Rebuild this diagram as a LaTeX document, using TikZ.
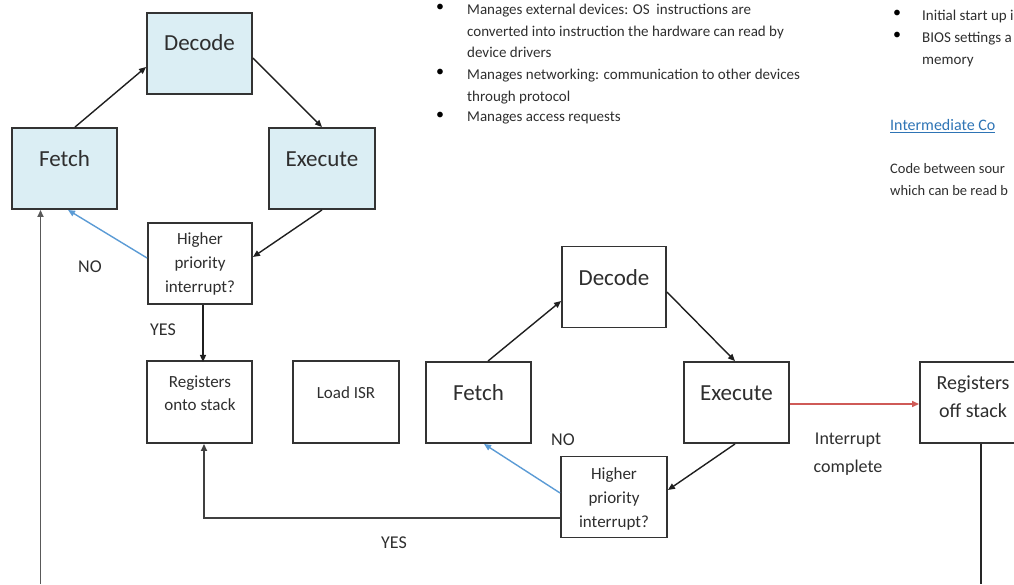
\documentclass[tikz,border=0pt]{standalone}
\usepackage{fontspec}
\setmainfont{Carlito}
\usetikzlibrary{arrows.meta,calc}

\definecolor{boxfill}{HTML}{DBEEF4}
\definecolor{nolink}{HTML}{5B9BD5}
\definecolor{donelink}{HTML}{CF5A57}
\definecolor{headblue}{HTML}{2E74B5}
\definecolor{ink}{HTML}{2E2E2E}

\tikzset{
  stagebox/.style={draw=black!80, line width=1.9pt, minimum width=105pt,
    minimum height=81pt, inner sep=0pt},
  cyclebox/.style={stagebox, fill=boxfill},
  bigtxt/.style={font=\fontsize{23}{27}\selectfont, text=ink, inner sep=0pt},
  smalltxt/.style={font=\fontsize{17}{24}\selectfont, text=ink, inner sep=0pt, align=center},
  tag/.style={font=\fontsize{18}{28}\selectfont, text=ink, inner sep=0pt, align=center},
  link/.style={line width=1.4pt, draw=black!88, -{Triangle[length=7pt,width=6pt]}},
  nolinkstyle/.style={line width=1.4pt, draw=nolink, -{Triangle[length=7pt,width=6pt]}},
  notes/.style={font=\fontsize{15}{21.5}\selectfont, text=ink, inner sep=0pt,
    anchor=north west, align=left},
  dot/.style={font=\fontsize{16}{21.5}\selectfont, text=black, inner sep=0pt, anchor=north west}
}

\begin{document}
\begin{tikzpicture}[x=1pt, y=-1pt]
\useasboundingbox (0,0) rectangle (1014,584);
\clip (0,0) rectangle (1014,584);

% ---- main fetch-decode-execute cycle ----
\node[cyclebox] (dec1) at (199.5,53.5) {};
\node[cyclebox] (fet1) at (64.5,168.5) {};
\node[cyclebox, minimum width=106pt] (exe1) at (322,168.5) {};
\node[stagebox, minimum width=104pt] (hp1) at (200,263.5) {};

\node[bigtxt] (dec1t) at (199.5,43) {Decode};
\node[bigtxt] (fet1t) at (64.5,159) {Fetch};
\node[bigtxt] (exe1t) at (322,159) {Execute};
\node[smalltxt] (hp1t) at (200,264) {Higher\\priority\\interrupt?};

% ---- interrupt handling ----
\node[stagebox, minimum height=82pt] (reg1) at (199.5,402) {};
\node[stagebox, minimum width=106pt, minimum height=82pt] (isr) at (346,402) {};
\node[smalltxt, font=\fontsize{17}{23}\selectfont] (reg1t) at (200,393.5) {Registers\\onto stack};
\node[smalltxt] (isrt) at (346,393) {Load ISR};

% ---- interrupt service routine cycle ----
\node[stagebox] (fet2) at (478.5,402.5) {};
\node[stagebox, minimum width=104pt] (dec2) at (614,287) {};
\node[stagebox] (exe2) at (736.5,402.5) {};
\node[stagebox, minimum width=106pt] (hp2) at (614,497) {};
\node[stagebox] (regoff) at (972.5,402.5) {};

\node[bigtxt] (fet2t) at (478.5,393) {Fetch};
\node[bigtxt] (dec2t) at (614,278) {Decode};
\node[bigtxt] (exe2t) at (736.5,393) {Execute};
\node[smalltxt] (hp2t) at (614,498.5) {Higher\\priority\\interrupt?};
\node[smalltxt, font=\fontsize{20}{28}\selectfont] (regofft) at (973,397) {Registers\\off stack};

% ---- labels ----
\node[tag] (no1) at (90,267) {NO};
\node[tag] (yes1) at (163,330) {YES};
\node[tag] (no2) at (563,440) {NO};
\node[tag] (yes2) at (394,543) {YES};
\node[tag] (donet) at (848,454) {Interrupt\\complete};

% ---- loose ends of the long return lines ----
\coordinate (backin) at (40.5,584);
\coordinate (backout) at (981,584);

% ---- connectors: main cycle ----
\draw[link] ($(fet1.north)+(10.5,0)$) -- ($(dec1.west)+(0,13.5)$);
\draw[link] ($(dec1.east)+(0,4.5)$) -- (exe1.north);
\draw[link] (exe1.south) -- ($(hp1.east)+(0,-6.5)$);
\draw[nolinkstyle] ($(hp1.west)+(0,-5.5)$) -- ($(fet1.south)+(3.5,0)$);
\draw[link] ($(hp1.south)+(3,0)$) -- ($(reg1.south)+(3.5,-82)$);
\draw[link, line width=1.8pt, draw=black!65] (backin) -- ($(fet1.south)+(-24,0)$);

% ---- connectors: ISR cycle ----
\draw[link] ($(fet2.north)+(9.5,0)$) -- ($(dec2.west)+(0,14)$);
\draw[link] ($(dec2.east)+(0,5)$) -- ($(exe2.north)+(-1.5,0)$);
\draw[link] ($(exe2.south)+(-1.5,0)$) -- ($(hp2.east)+(0,-7)$);
\draw[nolinkstyle] ($(hp2.west)+(0,-4)$) -- ($(fet2.south)+(5.5,0)$);
\draw[link, line width=1.6pt, draw=black!75] ($(hp2.west)+(0,21)$) -| ($(reg1.south)+(4.5,0)$);
\draw[line width=1.4pt, draw=donelink, -{Triangle[length=7pt,width=6pt]}]
  ($(exe2.east)+(0,1.5)$) -- ($(regoff.west)+(0,1.5)$);
\draw[line width=1.6pt, draw=black!85] ($(regoff.south)+(8.5,0)$) -- (backout);

% ---- surrounding notes ----
\node[dot] (b1) at (436,4) {•};
\node[dot] (b2) at (436,69) {•};
\node[dot] (b3) at (436,112) {•};
\node[notes] (n1) at (467,4) {Manages external devices: OS\ \ instructions are\\converted into instruction the hardware can read by\\device drivers};
\node[notes] (n2) at (467,69) {Manages networking: communication to other devices\\through protocol};
\node[notes] (n3) at (467,112) {Manages access requests};

\node[dot] (b4) at (893,10) {•};
\node[dot] (b5) at (893,32) {•};
\node[notes] (n4) at (922,10) {Initial start up i};
\node[notes] (n5) at (922,32) {BIOS settings a\\memory};
\node[notes, font=\fontsize{16}{20}\selectfont, text=headblue] (head) at (890,119) {\underline{Intermediate Co}};
\node[notes, font=\fontsize{14.5}{22}\selectfont] (n6) at (890,163) {Code between sour\\which can be read b};
\end{tikzpicture}
\end{document}
